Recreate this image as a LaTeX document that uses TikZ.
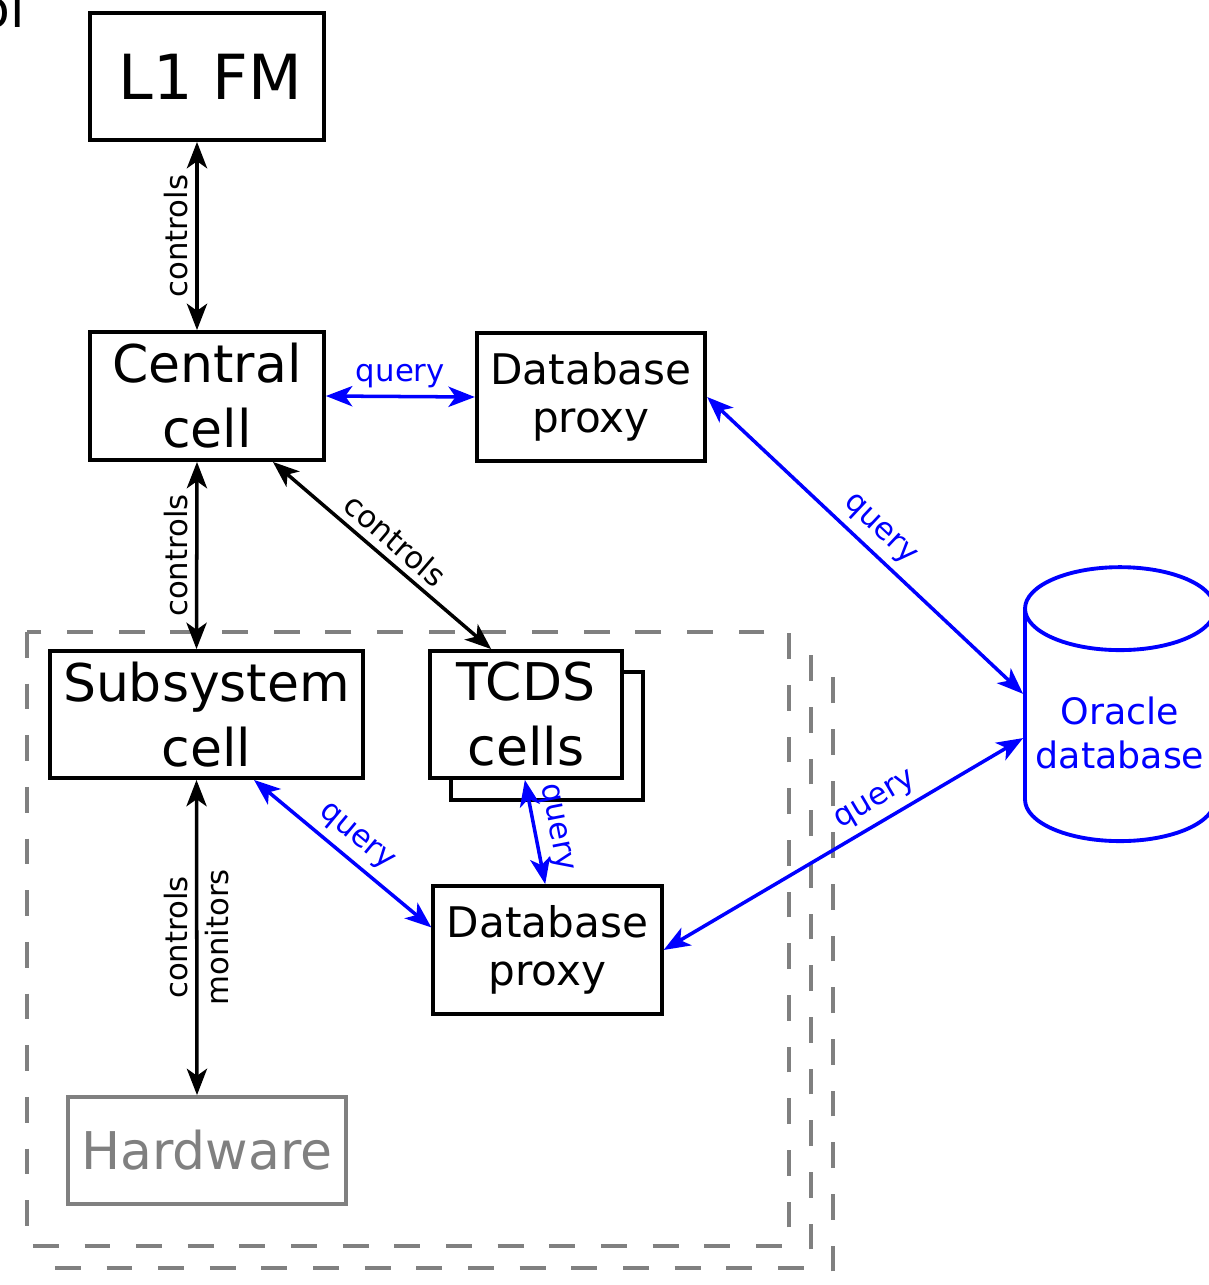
\documentclass[tikz,border=0pt]{standalone}
\usepackage{fontspec}
\setmainfont{DejaVu Sans}
\usepackage{tikz}
\usetikzlibrary{arrows.meta}
\usetikzlibrary{shapes.geometric}

\begin{document}
\begin{tikzpicture}[x=0.02cm,y=-0.02cm,
		box/.style={draw,fill=white,line width=2.2pt,align=center,inner sep=0pt,font=\fontsize{29.6}{37}\selectfont},
		proxy/.style={box,minimum width=4.57cm,minimum height=2.56cm,font=\fontsize{24}{27.5}\selectfont},
		link/.style={line width=2pt,{Stealth[length=15pt,width=11.5pt,inset=4pt]}-{Stealth[length=15pt,width=11.5pt,inset=4pt]}},
		dblink/.style={link,blue},
		lbl/.style={font=\fontsize{17.5}{20}\selectfont,inner sep=4pt},
		crate/.style={draw=gray,fill=white,line width=2.3pt,dash pattern=on 14.7pt off 14.7pt}]
		\useasboundingbox (0,0) rectangle (1209,1285);
		\draw[crate] (71,676) rectangle (833,1290);
		\draw[crate] (49,654) rectangle (811,1268);
		\draw[crate] (27,632) rectangle (789,1246);
		\node[anchor=base west,inner sep=0pt,font=\fontsize{29.6}{37}\selectfont] (cut) at (-21.6,27) {ol};
		\node[box,minimum width=4.68cm,minimum height=2.54cm,font=\fontsize{35.4}{40}\selectfont] (l1fm) at (207,76.5) {\hspace{4pt}L1 FM};
		\node[box,minimum width=4.68cm,minimum height=2.56cm] (central) at (207,396) {Central\\cell};
		\node[proxy] (dbtop) at (591,397) {Database\\proxy};
		\node[box,minimum width=6.26cm,minimum height=2.54cm] (subsys) at (206.5,714.5) {Subsystem\\cell};
		\node[box,minimum width=3.84cm,minimum height=2.56cm] (tcdsback) at (547,736) {};
		\node[box,minimum width=3.84cm,minimum height=2.54cm] (tcds) at (526,714.5) {TCDS\\cells};
		\node[proxy] (dbbot) at (547.5,950) {Database\\proxy};
		\node[box,draw=gray,text=gray,minimum width=5.56cm,minimum height=2.14cm] (hw) at (207,1150.5) {Hardware};
		\node[shape=cylinder,shape border rotate=90,aspect=0.46,draw=blue,text=blue,line width=2.2pt,align=center,
			minimum width=3.8cm,minimum height=5.48cm,font=\fontsize{20.7}{25.5}\selectfont] (oracle) at (1120,733) {Oracle\\database};
		\draw[link] ([xshift=-0.2cm]l1fm.south) -- node[lbl,rotate=90,anchor=south] {controls} ([xshift=-0.2cm]central.north);
		\draw[link] ([xshift=-0.2cm]central.south) -- node[lbl,rotate=90,anchor=south] {controls} ([xshift=-0.2cm]subsys.north);
		\draw[link] (central.-45) -- node[lbl,sloped,above] {controls} (tcds.118);
		\draw[link] ([xshift=-0.2cm]subsys.south) -- node[lbl,rotate=90,anchor=south] {controls}
			node[lbl,rotate=90,anchor=north] {monitors} ([xshift=-0.2cm]hw.north);
		\draw[dblink] (central.east) -- node[lbl,above] {query} (dbtop.west);
		\draw[dblink] (dbtop.east) -- node[lbl,sloped,above] {query} (oracle.158);
		\draw[dblink] (subsys.-54) -- node[lbl,sloped,above] {query} (dbbot.169);
		\draw[dblink] (tcds.-91) -- node[lbl,sloped,above] {query} (dbbot.92);
		\draw[dblink] (dbbot.east) -- node[lbl,sloped,above,pos=0.62] {query} (oracle.183);
	\end{tikzpicture}
\end{document}
